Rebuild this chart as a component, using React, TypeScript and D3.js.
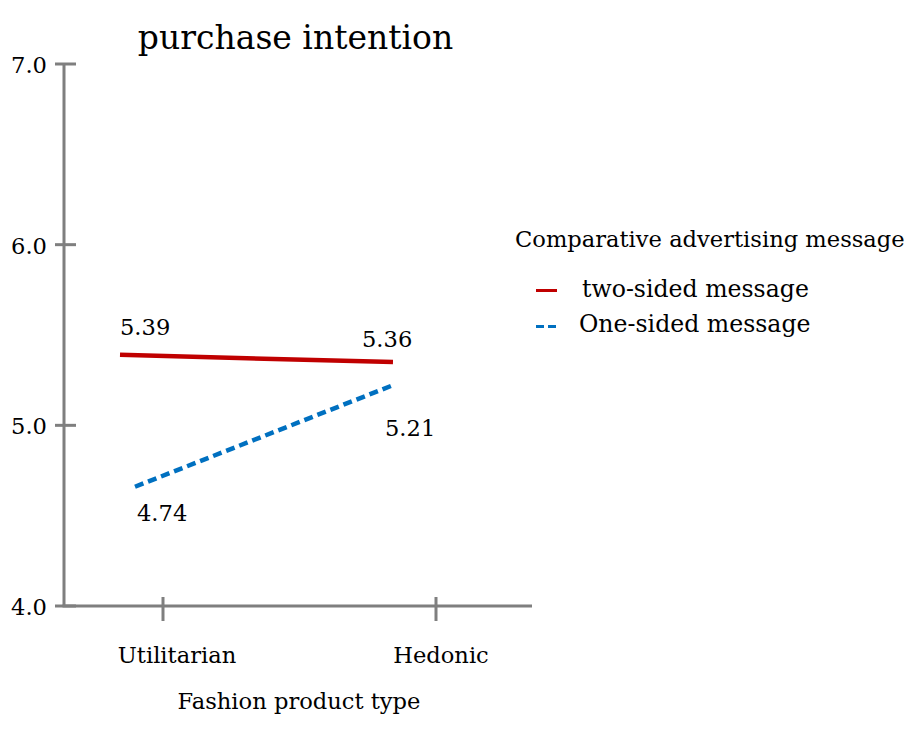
import React from "react";
import * as d3 from "d3";

const categories = ["Utilitarian", "Hedonic"];
const yTicks = [4.0, 5.0, 6.0, 7.0];
const seriesNames = ["two-sided message", "One-sided message"];
const twoSided = [5.39, 5.35];
const oneSided = [4.66, 5.22];
const twoSidedLabels = ["5.39", "5.36"];
const oneSidedLabels = ["4.74", "5.21"];

const W = 922;
const H = 729;
const FONT = "'DejaVu Serif', serif";
const FS = 22.6;

export default function App() {
  const y = d3.scaleLinear().domain([4, 7]).range([606, 64]);
  const xTick = d3.scalePoint<string>().domain(categories).range([163, 436]);
  const xRed = d3.scalePoint<string>().domain(categories).range([120, 393]);
  const xBlue = d3.scalePoint<string>().domain(categories).range([135, 392]);
  const mkLine = (xs: d3.ScalePoint<string>) =>
    d3
      .line<number>()
      .x((_, i) => xs(categories[i]) as number)
      .y((d) => y(d));

  const axisColor = "#7f7f7f";
  const red = "#c00000";
  const blue = "#0070c0";

  const px = (xs: d3.ScalePoint<string>, i: number) => xs(categories[i]) as number;

  return (
    <svg
      width={W}
      height={H}
      style={{ position: "absolute", left: 0, top: 0, background: "#fff" }}
      fontFamily={FONT}
    >
      <text x={295.5} y={49} fontSize={33} textAnchor="middle" fill="#000">
        purchase intention
      </text>
      {/* y axis */}
      <line x1={64} x2={64} y1={y(7)} y2={y(4)} stroke={axisColor} strokeWidth={3} />
      {yTicks.map((t) => (
        <g key={t}>
          <line x1={55} x2={76} y1={y(t)} y2={y(t)} stroke={axisColor} strokeWidth={3} />
          <text x={47} y={y(t) + 9} fontSize={FS} textAnchor="end" fill="#000">
            {t.toFixed(1)}
          </text>
        </g>
      ))}
      {/* x axis */}
      <line x1={62.5} x2={532} y1={y(4)} y2={y(4)} stroke={axisColor} strokeWidth={3} />
      {categories.map((c, i) => (
        <g key={c}>
          <line
            x1={xTick(c)}
            x2={xTick(c)}
            y1={y(4) - 9}
            y2={y(4) + 15}
            stroke={axisColor}
            strokeWidth={3}
          />
          <text
            x={(xTick(c) as number) + (i === 0 ? 14 : 5)}
            y={663}
            fontSize={FS}
            textAnchor="middle"
            fill="#000"
          >
            {c}
          </text>
        </g>
      ))}
      <text x={299} y={709} fontSize={FS} textAnchor="middle" fill="#000">
        Fashion product type
      </text>
      {/* lines */}
      <path d={mkLine(xRed)(twoSided) || ""} fill="none" stroke={red} strokeWidth={4.5} />
      <path
        d={mkLine(xBlue)(oneSided) || ""}
        fill="none"
        stroke={blue}
        strokeWidth={4.5}
        strokeDasharray="9,5"
      />
      {/* data labels */}
      <text x={px(xRed, 0)} y={y(twoSided[0]) - 20} fontSize={FS}>
        {twoSidedLabels[0]}
      </text>
      <text x={px(xRed, 1) - 31} y={y(twoSided[1]) - 15} fontSize={FS}>
        {twoSidedLabels[1]}
      </text>
      <text x={px(xBlue, 0) + 2} y={y(oneSided[0]) + 34} fontSize={FS}>
        {oneSidedLabels[0]}
      </text>
      <text x={px(xBlue, 1) - 7} y={y(oneSided[1]) + 50} fontSize={FS}>
        {oneSidedLabels[1]}
      </text>
      {/* legend */}
      <text x={515} y={247} fontSize={FS} fill="#000">
        Comparative advertising message
      </text>
      <line x1={536} x2={557} y1={290.5} y2={290.5} stroke={red} strokeWidth={3} />
      <text x={582} y={297} fontSize={23.6}>
        {seriesNames[0]}
      </text>
      <line x1={536} x2={557} y1={326.5} y2={326.5} stroke={blue} strokeWidth={3} strokeDasharray="8,4" />
      <text x={579} y={331.5} fontSize={23.6}>
        {seriesNames[1]}
      </text>
    </svg>
  );
}
